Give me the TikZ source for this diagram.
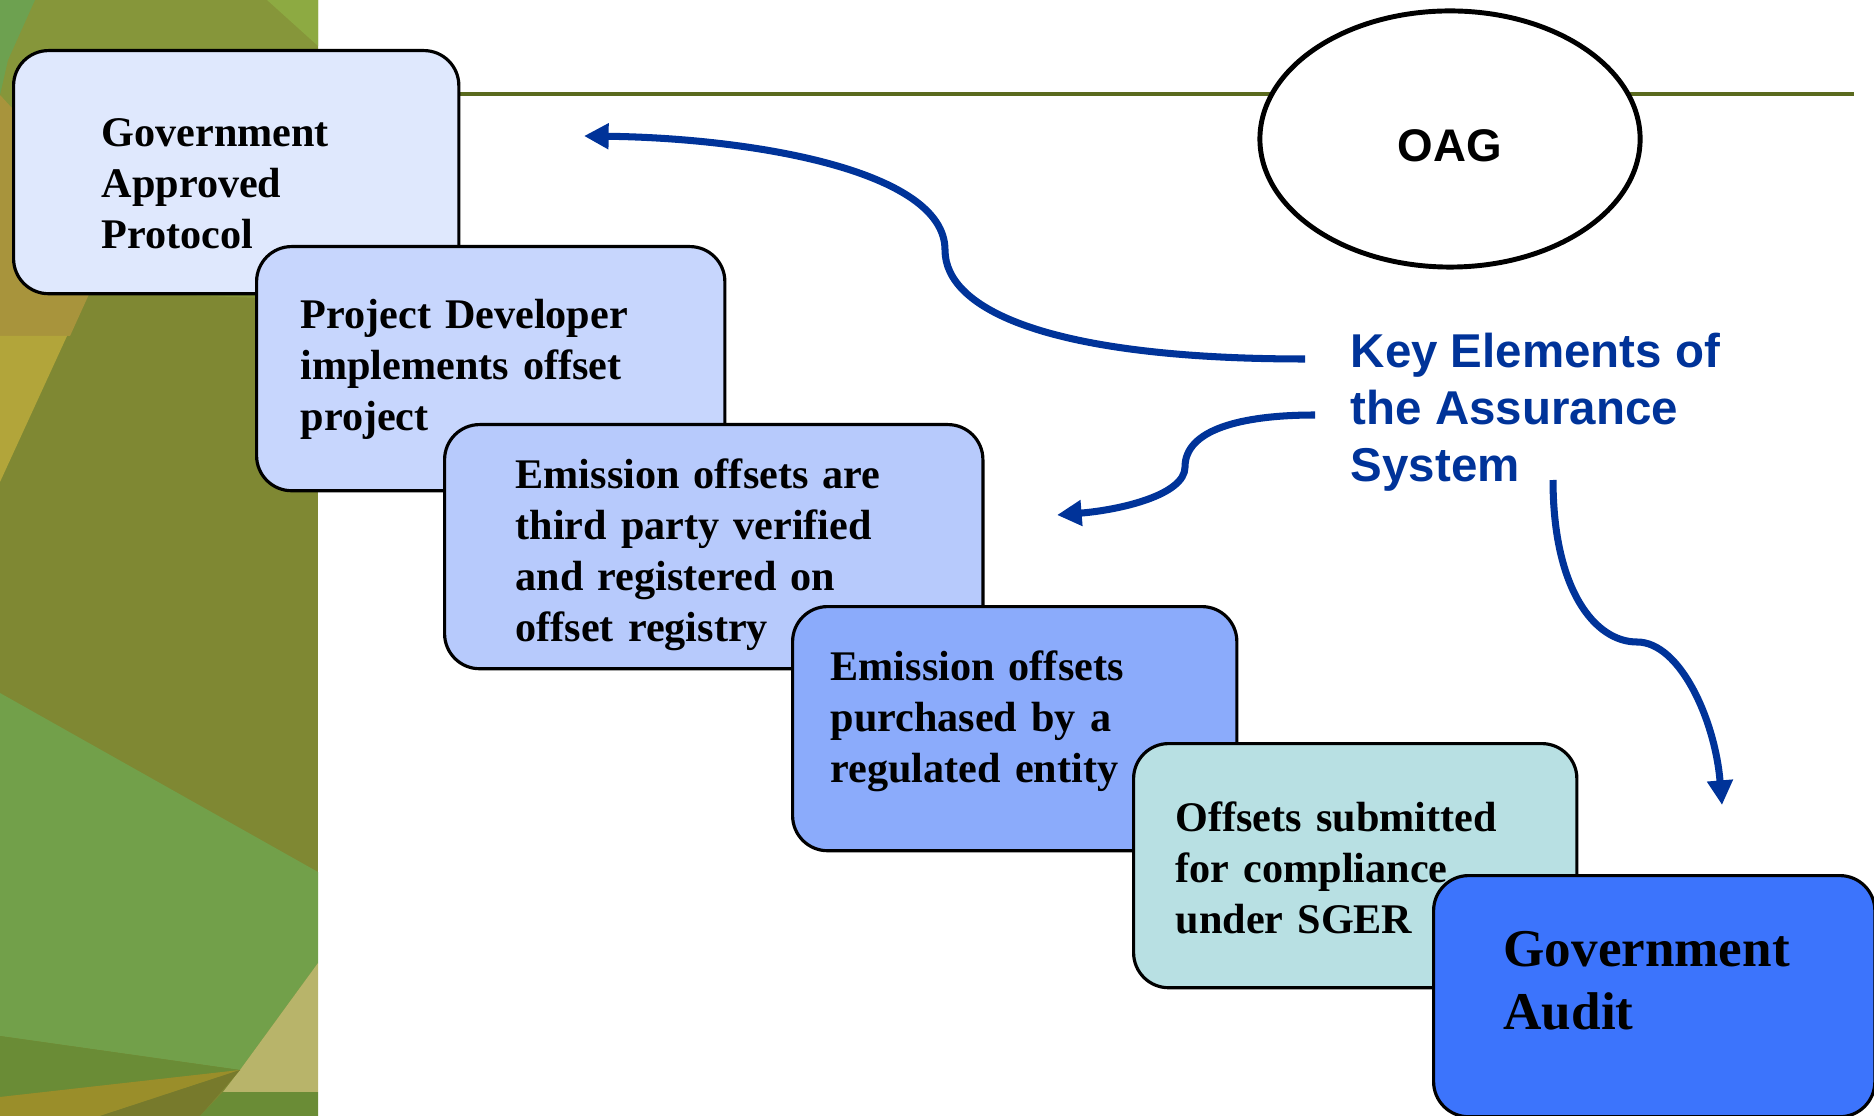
\documentclass[tikz,border=0pt]{standalone}
\usepackage{fontspec}
\setmainfont{Liberation Serif}
\setsansfont{Liberation Sans}
\usetikzlibrary{arrows.meta,shapes.geometric}
\definecolor{boxa}{HTML}{DFE8FD}
\definecolor{boxb}{HTML}{C7D6FD}
\definecolor{boxc}{HTML}{B7CAFC}
\definecolor{boxd}{HTML}{8BABFB}
\definecolor{boxe}{HTML}{B8E0E3}
\definecolor{boxf}{HTML}{3C74FC}
\definecolor{keyblue}{HTML}{003399}
\definecolor{ruleolive}{HTML}{5A6A1E}
\definecolor{bgolive}{HTML}{7F8833}
\definecolor{bgband}{HTML}{86963A}
\definecolor{bgleaf}{HTML}{6DA150}
\definecolor{bglight}{HTML}{8DAA42}
\definecolor{bgbrown}{HTML}{A8943C}
\definecolor{bgyellow}{HTML}{B2A53A}
\definecolor{bggreen}{HTML}{72A04A}
\definecolor{bgtan}{HTML}{B8B46A}
\definecolor{bgdark}{HTML}{6A8C36}
\definecolor{bgochre}{HTML}{9A8E2A}
\definecolor{bgmoss}{HTML}{777A2C}
\tikzset{
    box/.style={draw=black, line width=0.9pt, rounded corners=0.35cm, anchor=north west, align=left,
        minimum height=2.44cm, text height=0pt, font=\bfseries\fontsize{12}{14.5}\selectfont},
    keyarrow/.style={draw=keyblue, line width=2pt, -{Triangle[length=7pt,width=7pt]}},
    rule/.style={draw=ruleolive, line width=1.1pt}
}
\begin{document}
\begin{tikzpicture}[x=0.01cm, y=-0.01cm]
        \useasboundingbox (0, 0) rectangle (1874, 1116);
        \fill[bgolive] (0, 0) rectangle (318, 1116);
        \fill[bgband] (0, 0) -- (318, 0) -- (318, 300) -- (90, 292) -- (0, 95) -- cycle;
        \fill[bgleaf] (0, 0) -- (35, 0) -- (8, 60) -- (0, 95) -- cycle;
        \fill[bglight] (267, 0) -- (318, 0) -- (318, 46) -- cycle;
        \fill[bgbrown] (0, 95) -- (60, 160) -- (90, 292) -- (70, 336) -- (0, 336) -- cycle;
        \fill[bgyellow] (0, 336) -- (67, 336) -- (0, 482) -- cycle;
        \fill[bggreen] (0, 693) -- (318, 872) -- (318, 963) -- (240, 1070) -- (0, 1036) -- cycle;
        \fill[bgtan] (318, 963) -- (240, 1070) -- (223, 1092) -- (318, 1092) -- cycle;
        \fill[bgdark] (0, 1036) -- (240, 1070) -- (0, 1097) -- cycle;
        \fill[bgochre] (0, 1097) -- (240, 1070) -- (100, 1116) -- (0, 1116) -- cycle;
        \fill[bgmoss] (100, 1116) -- (240, 1070) -- (200, 1116) -- cycle;
        \fill[bgdark] (200, 1116) -- (223, 1092) -- (318, 1092) -- (318, 1116) -- cycle;
        \draw[rule] (457, 94) -- (1854, 94);
        \node (protocol) at (12, 49) [box, fill=boxa, minimum width=4.45cm, inner xsep=0.88cm, text width=2.69cm,
            minimum height=2.43cm, text depth=0.51cm] {Government\\Approved\\Protocol};
        \node (developer) at (255, 245) [box, fill=boxb, minimum width=4.68cm, inner xsep=0.44cm, text width=3.8cm,
            text depth=0.8cm] {Project Developer\\implements offset\\project};
        \node (verified) at (443, 423) [box, fill=boxc, minimum width=5.38cm, inner xsep=0.71cm, text width=3.96cm,
            text depth=1.16cm] {Emission offsets are\\third party verified\\and registered on\\offset registry};
        \node (purchased) at (791, 605) [box, fill=boxd, minimum width=4.44cm, inner xsep=0.38cm, text width=3.68cm,
            text depth=0.96cm] {Emission offsets\\purchased by a\\regulated entity};
        \node (submitted) at (1132, 742) [box, fill=boxe, minimum width=4.43cm, inner xsep=0.42cm, text width=3.59cm,
            text depth=0.68cm] {Offsets submitted\\for compliance\\under SGER};
        \node (audit) at (1432, 874) [box, fill=boxf, minimum width=4.41cm, minimum height=2.41cm, inner xsep=0.7cm, text width=3.01cm,
            text depth=0.59cm, font=\bfseries\fontsize{15.1}{17.9}\selectfont] {Government\\Audit};
        \node (oag) at (1450, 139) [ellipse, draw=black, line width=1.4pt, fill=white, minimum width=3.8cm, minimum height=2.56cm,
            text height=0.44cm, text depth=0pt, font=\sffamily\bfseries\fontsize{13}{15}\selectfont] {OAG};
        \node (key) at (1350, 332) [anchor=north west, inner sep=0pt, align=left, text=keyblue,
            font=\sffamily\bfseries\fontsize{13.5}{16.2}\selectfont] {Key Elements of\\the Assurance\\System};
        \coordinate (keyone) at (1305, 359);
        \coordinate (keytwo) at (1315, 415);
        \coordinate (keythree) at (1553, 480);
        \coordinate (toprotocol) at (584, 136);
        \coordinate (toverified) at (1057, 515);
        \coordinate (toaudit) at (1722, 805);
        \draw[keyarrow] (keyone) .. controls (1050, 359) and (945, 310) .. (945, 250) .. controls (945, 170) and (750, 138) .. (toprotocol);
        \draw[keyarrow] (keytwo) .. controls (1240, 415) and (1185, 430) .. (1185, 467) .. controls (1185, 495) and (1120, 510) .. (toverified);
        \draw[keyarrow] (keythree) .. controls (1553, 590) and (1595, 642) .. (1637, 642) .. controls (1680, 642) and (1715, 720) .. (toaudit);
\end{tikzpicture}
\end{document}
